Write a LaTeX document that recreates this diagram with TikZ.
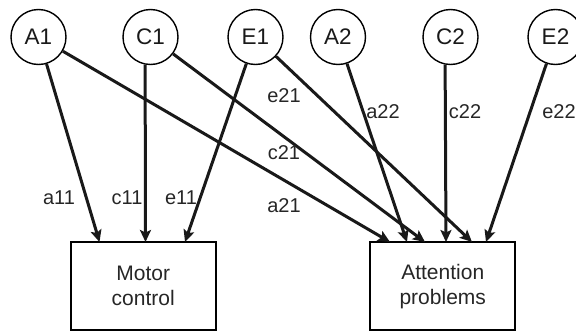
\documentclass[tikz,border=0pt]{standalone}
\usepackage{fontspec}
\setmainfont{Liberation Sans}
\usetikzlibrary{arrows.meta}
\begin{document}
\begin{tikzpicture}[x=1pt,y=-1pt,
  latent/.style={circle,draw,line width=1.4pt,minimum size=55pt,inner sep=0pt,font=\fontsize{22.5}{26}\selectfont,text=black!90},
  outbox/.style={rectangle,draw,line width=1.6pt,minimum width=145pt,minimum height=88pt,inner sep=0pt,align=center,font=\fontsize{21}{25}\selectfont,text=black!85},
  path/.style={line width=3pt,draw=black!90,-{Stealth[length=12pt,width=11pt,inset=2.5pt]}},
  lab/.style={font=\fontsize{20}{23}\selectfont,inner sep=0pt,text=black!85}]
\useasboundingbox (0,0) rectangle (576,332);
\node[latent] (A1) at (38.5,37) {A1};
\node[latent] (C1) at (150.5,37) {C1};
\node[latent] (E1) at (255.5,37) {E1};
\node[latent] (A2) at (338,37) {A2};
\node[latent] (C2) at (450.5,37) {C2};
\node[latent] (E2) at (555.5,37) {E2};
\node[outbox] (M) at (143.25,286.25) {Motor\\control};
\node[outbox] (P) at (442.75,286.25) {Attention\\problems};
% arrow tips
\coordinate (m1) at (99.5,242);
\coordinate (m2) at (145.5,242);
\coordinate (m3) at (185,242);
\coordinate (p1) at (390,242);
\coordinate (p2) at (407,242);
\coordinate (p3) at (425,242);
\coordinate (p4) at (446,242);
\coordinate (p5) at (472,242);
\coordinate (p6) at (486,242);
\draw[path] (A1) -- (m1);
\draw[path] (C1.259) -- (m2);
\draw[path] (E1) -- (m3);
\draw[path] (A1) -- (p1);
\draw[path] (C1) -- (p3);
\draw[path] (E1) -- (p5);
\draw[path] (A2) -- (p2);
\draw[path] (C2.259) -- (p4);
\draw[path] (E2) -- (p6);
% labels
\node[lab] (la11) at (59,198) {a11};
\node[lab] (lc11) at (127,198) {c11};
\node[lab] (le11) at (181,198) {e11};
\node[lab] (la21) at (284,206) {a21};
\node[lab] (lc21) at (284,153) {c21};
\node[lab] (le21) at (284,96) {e21};
\node[lab] (la22) at (383,112) {a22};
\node[lab] (lc22) at (465,112) {c22};
\node[lab] (le22) at (559,112) {e22};
\end{tikzpicture}
\end{document}
